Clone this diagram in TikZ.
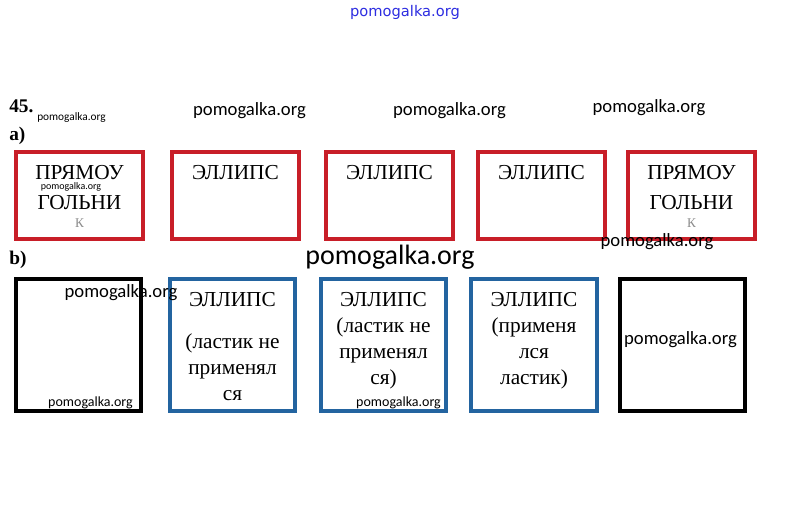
\documentclass[tikz,border=0pt]{standalone}
\usepackage{fontspec}
\setmainfont{Liberation Serif}
\newfontfamily\wmfont{Carlito}
\newfontfamily\topfont{DejaVu Sans}
\definecolor{boxred}{RGB}{200,30,40}
\definecolor{boxblue}{RGB}{35,100,160}
\definecolor{markblue}{RGB}{45,45,225}

\begin{document}
\begin{tikzpicture}[x=0.75pt,y=0.75pt,yscale=-1,xscale=1,
  redbox/.style={draw=boxred,line width=2.3pt},
  bluebox/.style={draw=boxblue,line width=2.3pt},
  blackbox/.style={draw=black,line width=2.3pt},
  boxtext/.style={anchor=north,inner sep=0.75pt,align=center,font=\fontsize{16}{19.5}\selectfont},
  wm/.style={inner sep=0.75pt,font=\wmfont\fontsize{#1}{#1}\selectfont},
  wm/.default=14]
\useasboundingbox (0,0) rectangle (808,509);
%set diagram to 808 x 509 with white paper
\fill [white] (0,0) rectangle (808,509);

%Shape: Rectangle
\draw  [redbox] (16,152) rectangle (143,239) ;
%Shape: Rectangle
\draw  [redbox] (172,152) rectangle (299,239) ;
%Shape: Rectangle
\draw  [redbox] (326,152) rectangle (453,239) ;
%Shape: Rectangle
\draw  [redbox] (478,152) rectangle (605,239) ;
%Shape: Rectangle
\draw  [redbox] (628,152) rectangle (755,239) ;

%Shape: Rectangle
\draw  [blackbox] (16,279) rectangle (141,411) ;
%Shape: Rectangle
\draw  [bluebox] (170,279) rectangle (295,411) ;
%Shape: Rectangle
\draw  [bluebox] (321,279) rectangle (446,411) ;
%Shape: Rectangle
\draw  [bluebox] (471,279) rectangle (597,411) ;
%Shape: Rectangle
\draw  [blackbox] (620,279) rectangle (745,411) ;

% Text Node
\draw (8,99) node [anchor=north west][inner sep=0.75pt]  (num)  {\fontsize{14.5}{14.5}\selectfont\bfseries 45.};
% Text Node
\draw (8,126) node [anchor=north west][inner sep=0.75pt]  (parta)  {\fontsize{14.5}{14.5}\selectfont\bfseries a)};
% Text Node
\draw (8,250) node [anchor=north west][inner sep=0.75pt]  (partb)  {\fontsize{14.5}{14.5}\selectfont\bfseries b)};

% Text Node
\draw (79.5,164) node [boxtext]  (rect1)  {ПРЯМОУ\\[3pt]ГОЛЬНИ\\[-6pt]{\fontsize{10}{10}\selectfont\color{black!45}К}};
% Text Node
\draw (235.5,164) node [boxtext]  (ell1)  {ЭЛЛИПС};
% Text Node
\draw (389.5,164) node [boxtext]  (ell2)  {ЭЛЛИПС};
% Text Node
\draw (541.5,164) node [boxtext]  (ell3)  {ЭЛЛИПС};
% Text Node
\draw (691.5,164) node [boxtext]  (rect2)  {ПРЯМОУ\\[3pt]ГОЛЬНИ\\[-6pt]{\fontsize{10}{10}\selectfont\color{black!45}К}};

% Text Node
\draw (232.5,291) node [boxtext]  (ell4)  {ЭЛЛИПС\\[12pt](ластик не\\применял\\ся};
% Text Node
\draw (383.5,291) node [boxtext]  (ell5)  {ЭЛЛИПС\\(ластик не\\применял\\ся)};
% Text Node
\draw (534,291) node [boxtext]  (ell6)  {ЭЛЛИПС\\(применя\\лся\\ластик)};

% Watermarks
\draw (405,12) node [inner sep=0.75pt]  (top)  {\topfont\fontsize{11}{11}\selectfont\color{markblue}pomogalka.org};
\draw (36,118) node [anchor=west][wm=8.5]  (wm1)  {pomogalka.org};
\draw (249.5,111) node [wm]  (wm2)  {pomogalka.org};
\draw (449.5,111) node [wm]  (wm3)  {pomogalka.org};
\draw (649,108) node [wm]  (wm4)  {pomogalka.org};
\draw (71,187) node [wm=7.5]  (wm5)  {pomogalka.org};
\draw (657,242) node [wm]  (wm6)  {pomogalka.org};
\draw (390,257) node [wm=21]  (wm7)  {pomogalka.org};
\draw (121,293) node [wm]  (wm8)  {pomogalka.org};
\draw (90.5,403) node [wm=10.5]  (wm9)  {pomogalka.org};
\draw (398.5,403) node [wm=10.5]  (wm10)  {pomogalka.org};
\draw (680.5,340) node [wm]  (wm11)  {pomogalka.org};

\end{tikzpicture}
\end{document}
